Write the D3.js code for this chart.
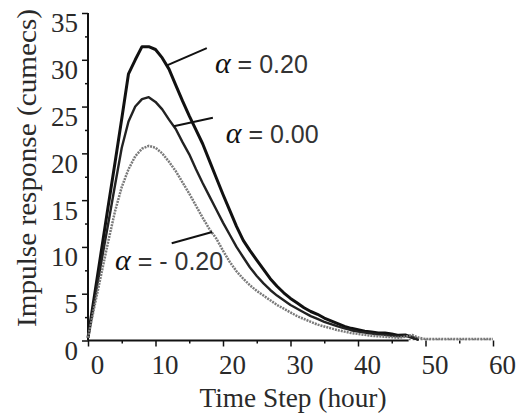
<!DOCTYPE html>
<html>
<head>
<meta charset="utf-8">
<script src="https://cdn.jsdelivr.net/npm/d3@7"></script>
<style>
    body { margin: 0; background: #fff; }
    #chart { width: 522px; height: 416px; }
    .tick line { stroke: #111; stroke-width: 1.5; }
    .axis-title { font-family: "Liberation Serif", serif; font-size: 27px; fill: #2a2a2a; }
    .note { font-family: "Liberation Sans", sans-serif; font-size: 25px; fill: #333; }
    .note .greek { font-family: "Liberation Serif", serif; font-style: italic; font-size: 30px; fill: #111; }
</style>
</head>
<body>
<div id="chart"></div>
<script>

// time step (hour)
let hours = [0, 1, 2, 3, 4, 5, 6, 7, 8, 9, 10, 11, 12, 13, 14, 15, 16, 17, 18, 19, 20,
    21, 22, 23, 24, 25, 26, 27, 28, 29, 30, 31, 32, 33, 34, 35, 36, 37, 38, 39, 40,
    41, 42, 43, 44, 45, 46, 47, 48, 49, 50, 51, 52, 53, 54, 55, 56, 57, 58, 59, 60];

// impulse response (cumecs)
let alphaPos = [0.3, 5.0, 9.7, 14.4, 19.0, 23.7, 28.5, 30.0, 31.4, 31.4, 31.1, 30.2, 29.0, 27.3,
    25.6, 24.0, 22.5, 21.0, 19.2, 17.4, 15.6, 13.9, 12.2, 10.7, 9.6, 8.6, 7.6, 6.6, 5.8, 5.1,
    4.5, 4.0, 3.5, 3.1, 2.8, 2.4, 2.1, 1.8, 1.5, 1.3, 1.15, 1.0, 0.9, 0.8, 0.8, 0.7, 0.55,
    0.6, 0.35, 0.1];

let alphaZero = [0.3, 4.4, 8.5, 12.5, 16.6, 20.6, 23.4, 25.0, 25.8, 26.0, 25.5, 24.7, 23.6, 22.6,
    21.2, 19.9, 18.3, 16.8, 15.4, 14.0, 12.6, 11.3, 10.0, 8.9, 7.8, 6.9, 6.1, 5.4, 4.8, 4.3,
    3.8, 3.4, 3.0, 2.6, 2.3, 2.0, 1.75, 1.5, 1.3, 1.1, 0.95, 0.85, 0.75, 0.65, 0.6, 0.5, 0.45,
    0.5, 0.3, 0.1];

let alphaNeg = [0.3, 3.8, 7.2, 10.6, 13.8, 16.4, 18.3, 19.7, 20.5, 20.8, 20.6, 20.0, 19.1, 18.1,
    16.9, 15.7, 14.4, 13.1, 11.9, 10.9, 9.6, 8.4, 7.4, 6.6, 5.9, 5.3, 4.8, 4.3, 3.8, 3.4,
    3.0, 2.6, 2.3, 2.0, 1.7, 1.5, 1.3, 1.1, 0.95, 0.8, 0.7, 0.6, 0.5, 0.45, 0.4, 0.35, 0.3,
    0.4, 0.6, 0.3, 0.15, 0.15, 0.15, 0.15, 0.15, 0.15, 0.15, 0.15, 0.15, 0.15, 0.15];

let seriesNames = ["0.20", "0.00", "- 0.20"];

let xTicks = [0, 10, 20, 30, 40, 50, 60];
let xMinorTicks = [5, 15, 25, 35, 45, 55];
let yTicks = [0, 5, 10, 15, 20, 25, 30, 35];
let yMinorTicks = [2.5, 7.5, 12.5, 17.5, 22.5, 27.5, 32.5];


class ImpulseVis {

    constructor(parentElement, series) {
        this.parentElement = parentElement;
        this.series = series;

        this.initVis();
    }

    initVis() {
        let vis = this;

        vis.margin = {top: 13, right: 29, bottom: 75.5, left: 88};
        vis.width = 522 - vis.margin.left - vis.margin.right;
        vis.height = 416 - vis.margin.top - vis.margin.bottom;

        vis.svg = d3.select("#" + vis.parentElement).append("svg")
            .attr("width", 522)
            .attr("height", 416)
            .append("g")
            .attr("transform", `translate(${vis.margin.left}, ${vis.margin.top})`);

        vis.xScale = d3.scaleLinear()
            .domain([0, 60])
            .range([0, vis.width]);

        vis.yScale = d3.scaleLinear()
            .domain([0, 35])
            .range([vis.height, 0]);

        // minor ticks first, no labels
        vis.svg.append("g")
            .attr("class", "x-minor axis")
            .attr("transform", "translate(0," + vis.height + ")")
            .call(d3.axisBottom(vis.xScale).tickValues(xMinorTicks).tickSize(3).tickFormat(""));

        vis.svg.append("g")
            .attr("class", "y-minor axis")
            .call(d3.axisLeft(vis.yScale).tickValues(yMinorTicks).tickSize(3).tickFormat(""));

        vis.xAxis = d3.axisBottom(vis.xScale)
            .tickValues(xTicks)
            .tickSize(6)
            .tickPadding(8);

        vis.yAxis = d3.axisLeft(vis.yScale)
            .tickValues(yTicks)
            .tickSize(6)
            .tickPadding(4);

        vis.svg.append("g")
            .attr("class", "x-axis axis")
            .attr("transform", "translate(0," + vis.height + ")")
            .call(vis.xAxis);

        vis.svg.append("g")
            .attr("class", "y-axis axis")
            .call(vis.yAxis);

        vis.svg.selectAll(".x-axis, .y-axis")
            .attr("font-family", "Liberation Serif")
            .attr("font-size", 27);

        vis.svg.selectAll(".axis text")
            .style("font-family", "'Liberation Serif', serif")
            .style("font-size", "27px")
            .style("fill", "#2a2a2a");

        // labels in the scan sit a bit right of / below their ticks
        vis.svg.selectAll(".x-axis text").attr("dx", 9);
        vis.svg.selectAll(".y-axis text").attr("dy", "0.7em");
        vis.svg.selectAll(".axis .domain").remove();

        // axis lines: x axis is solid up to ~47 h, dotted after that
        vis.svg.append("line")
            .attr("x1", vis.xScale(0)).attr("x2", vis.xScale(0))
            .attr("y1", vis.yScale(0)).attr("y2", vis.yScale(35))
            .attr("stroke", "#111").attr("stroke-width", 2);

        vis.svg.append("line")
            .attr("x1", vis.xScale(0)).attr("x2", vis.xScale(47.5))
            .attr("y1", vis.yScale(0)).attr("y2", vis.yScale(0))
            .attr("stroke", "#111").attr("stroke-width", 2);

        vis.svg.append("line")
            .attr("x1", vis.xScale(47.5)).attr("x2", vis.xScale(60))
            .attr("y1", vis.yScale(0) - 1).attr("y2", vis.yScale(0) - 1)
            .attr("stroke", "#777").attr("stroke-width", 1.5)
            .attr("stroke-dasharray", "2,2");

        // titles
        vis.svg.append("text")
            .attr("class", "axis-title")
            .attr("x", 293 - vis.margin.left)
            .attr("y", vis.height + 66)
            .attr("text-anchor", "middle")
            .attr("textLength", 187)
            .attr("lengthAdjust", "spacingAndGlyphs")
            .text("Time Step (hour)");

        vis.svg.append("text")
            .attr("class", "axis-title")
            .attr("transform", `translate(${36 - vis.margin.left}, ${168 - vis.margin.top}) rotate(-90)`)
            .attr("text-anchor", "middle")
            .attr("textLength", 318)
            .attr("lengthAdjust", "spacingAndGlyphs")
            .text("Impulse response (cumecs)");

        vis.line = d3.line()
            .x(d => vis.xScale(d.t))
            .y(d => vis.yScale(d.v));

        this.wrangleData();
    }

    wrangleData() {
        let vis = this;

        vis.displayData = vis.series.map(s => ({
            name: s.name,
            style: s.style,
            values: s.values.map((v, i) => ({t: hours[i], v: v}))
        }));

        vis.updateVis();
    }

    updateVis() {
        let vis = this;

        vis.svg.selectAll(".curve")
            .data(vis.displayData)
            .enter()
            .append("path")
            .attr("class", "curve")
            .attr("fill", "none")
            .attr("stroke", d => d.style.color)
            .attr("stroke-width", d => d.style.width)
            .attr("stroke-dasharray", d => d.style.dash)
            .attr("stroke-linejoin", "round")
            .attr("d", d => vis.line(d.values));

        // callout lines + labels, positions in data units
        let notes = [
            {from: [11.7, 29.4], to: [17.6, 31.25], at: [18.8, 28.6]},
            {from: [12.7, 22.9], to: [18.5, 23.8], at: [20.4, 21.1]},
            {from: [12.4, 10.4], to: [18.4, 11.6], at: [4.0, 7.5]}
        ];

        vis.svg.selectAll(".callout")
            .data(notes)
            .enter()
            .append("line")
            .attr("class", "callout")
            .attr("x1", d => vis.xScale(d.from[0]))
            .attr("y1", d => vis.yScale(d.from[1]))
            .attr("x2", d => vis.xScale(d.to[0]))
            .attr("y2", d => vis.yScale(d.to[1]))
            .attr("stroke", "#111")
            .attr("stroke-width", 2);

        let labels = vis.svg.selectAll(".note")
            .data(notes)
            .enter()
            .append("text")
            .attr("class", "note")
            .attr("x", d => vis.xScale(d.at[0]))
            .attr("y", d => vis.yScale(d.at[1]));

        labels.append("tspan").attr("class", "greek").text("α");
        labels.append("tspan").text((d, i) => " = " + seriesNames[i]);
    }
}

let impulseVis = new ImpulseVis("chart", [
    {name: seriesNames[0], values: alphaPos, style: {color: "#111", width: 3, dash: null}},
    {name: seriesNames[1], values: alphaZero, style: {color: "#222", width: 2.4, dash: null}},
    {name: seriesNames[2], values: alphaNeg, style: {color: "#7a7a7a", width: 2.5, dash: "2,1"}}
]);

</script>
</body>
</html>
